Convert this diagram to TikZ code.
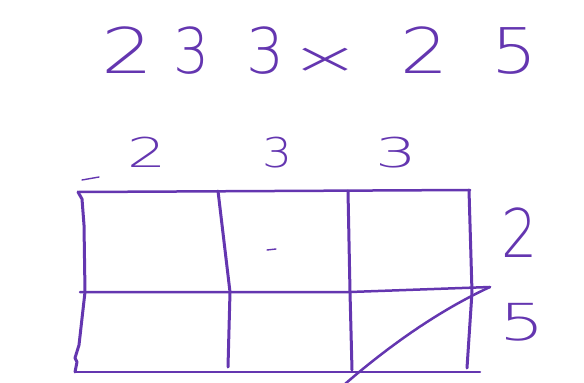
\documentclass[tikz,border=0pt]{standalone}
\usepackage{fontspec}
\newfontfamily\handfont{DejaVu Sans ExtraLight}
\definecolor{pen}{RGB}{100,54,176}
\tikzset{ink/.style={pen,line width=3pt,line cap=round,line join=round},
         rule/.style={pen,line width=2.5pt,line cap=round},
         dig/.style={pen,inner sep=0pt,anchor=base},
         big/.style={font=\handfont\fontsize{63}{63}\selectfont},
         mid/.style={font=\handfont\fontsize{41}{41}\selectfont}
         }

\begin{document}
\begin{tikzpicture}[x=1pt,y=-1pt]
\useasboundingbox (0,0) rectangle (584,383);
% the sum
\foreach \i/\lab/\x/\s in {1/2/128/1.3,2/3/192/0.9,3/3/266/0.95,5/2/425/1.2,6/5/515/1.15}
  \node[dig,big,xscale=\s] (t\i) at (\x,73) {\lab};
\node[pen,big,inner sep=0pt,xscale=1.4,yscale=0.7] (t4) at (325,61) {×};
% digits round the grid
\foreach \i/\lab/\x/\s in {1/2/147/1.5,2/3/277/1.15,3/3/396/1.6}
  \node[dig,mid,xscale=\s] (c\i) at (\x,167) {\lab};
\node[dig,font=\handfont\fontsize{67}{67}\selectfont,xscale=0.85] (r1) at (520,257) {2};
\node[dig,font=\handfont\fontsize{51}{51}\selectfont,xscale=1.4] (r2) at (522,340) {5};
% grid
\coordinate (tl) at (78,192);
\coordinate (tr) at (470,190);
\coordinate (bl) at (75,372);
\coordinate (br) at (480,372);
\coordinate (ml) at (80,292);
\coordinate (mr) at (490,287);
\draw[rule] (tl) -- (tr);
\draw[rule] (ml) -- (350,292) -- (mr);
\draw[rule] (bl) -- (br);
\draw[ink] (tl) -- (82,199) -- (84,225) -- (85,292) -- (79,345) -- (75,358) -- (77,362) -- (bl);
\draw[ink] (218,191) -- (230,292) -- (228,367);
\draw[ink] (348,191) -- (350,292) -- (352,370);
\draw[ink] (469,190) -- (472,292) -- (467,368);
\draw[rule] (mr) .. controls (440,310) and (390,345) .. (345,384);
% stray marks
\draw[pen,line width=1.4pt,line cap=round] (82,180) -- (99,177);
\draw[pen,line width=1.4pt,line cap=round] (267,250) -- (276,249);
\end{tikzpicture}
\end{document}
